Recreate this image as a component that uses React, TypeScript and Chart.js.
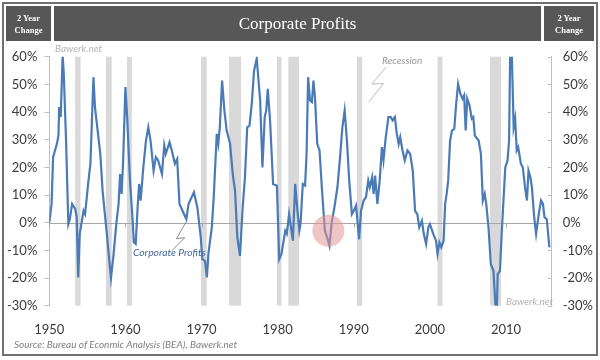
import React, { useEffect, useRef } from "react";
import { Chart, registerables } from "chart.js";
Chart.register(...registerables);

// ---- data (2 year change of US corporate profits, %) ----
const years = [
  1950.0, 1950.3, 1950.5, 1951.0, 1951.2, 1951.3, 1951.5, 1951.75, 1951.9, 1952.2,
  1952.5, 1952.7, 1953.0, 1953.4, 1953.6, 1953.8, 1954.0, 1954.5, 1954.7, 1955.1,
  1955.4, 1955.8, 1956.0, 1956.3, 1956.7, 1957.0, 1957.3, 1957.5, 1958.1, 1958.4,
  1958.8, 1959.1, 1959.3, 1959.5, 1959.7, 1960.0, 1960.25, 1960.6, 1960.95, 1961.1,
  1961.35, 1961.6, 1961.8, 1962.0, 1962.35, 1962.7, 1963.0, 1963.3, 1963.7, 1964.0,
  1964.3, 1964.8, 1965.1, 1965.3, 1965.8, 1966.1, 1966.5, 1966.8, 1967.1, 1967.5,
  1968.0, 1968.3, 1968.6, 1969.0, 1969.45, 1969.9, 1970.1, 1970.45, 1970.7, 1970.9,
  1971.35, 1971.6, 1972.0, 1972.2, 1972.4, 1972.7, 1973.0, 1973.3, 1973.75, 1974.1,
  1974.4, 1974.7, 1975.05, 1975.4, 1975.7, 1976.0, 1976.3, 1976.6, 1976.9, 1977.25,
  1977.7, 1978.0, 1978.3, 1978.5, 1978.7, 1979.0, 1979.4, 1979.9, 1980.2, 1980.5,
  1981.0, 1981.2, 1981.5, 1982.0, 1982.3, 1982.6, 1982.85, 1983.0, 1983.3, 1983.6,
  1983.8, 1984.0, 1984.25, 1984.5, 1984.7, 1984.9, 1985.2, 1985.5, 1985.8, 1986.2,
  1986.5, 1986.8, 1987.1, 1987.45, 1987.85, 1988.2, 1988.5, 1988.8, 1989.1, 1989.4,
  1989.75, 1990.0, 1990.3, 1990.5, 1990.7, 1990.95, 1991.3, 1991.6, 1991.9, 1992.1,
  1992.4, 1992.6, 1992.8, 1993.1, 1993.4, 1993.7, 1993.9, 1994.2, 1994.55, 1994.85,
  1995.1, 1995.4, 1995.65, 1995.9, 1996.1, 1996.4, 1996.7, 1997.05, 1997.4, 1997.75,
  1998.05, 1998.35, 1998.6, 1998.95, 1999.2, 1999.5, 1999.8, 2000.0, 2000.45, 2000.8,
  2001.0, 2001.25, 2001.5, 2001.8, 2002.0, 2002.2, 2002.4, 2002.65, 2002.9, 2003.2,
  2003.45, 2003.7, 2004.0, 2004.3, 2004.5, 2004.7, 2004.9, 2005.2, 2005.5, 2005.7,
  2005.9, 2006.4, 2006.7, 2006.95, 2007.2, 2007.4, 2007.7, 2008.0, 2008.35, 2008.6,
  2008.8, 2008.9, 2009.2, 2009.45, 2009.9, 2010.2, 2010.4, 2010.55, 2010.75, 2011.0,
  2011.2, 2011.4, 2011.6, 2011.95, 2012.2, 2012.5, 2012.75, 2012.95, 2013.2, 2013.4,
  2013.7, 2013.95, 2014.3, 2014.6, 2014.85, 2015.05, 2015.35, 2015.7,
];
const profitChange = [
  0, 6.8, 23.7, 28.5, 31.5, 41.8, 38.2, 60.5, 54, 29.7,
  -0.5, 1.3, 6.8, 5, 2, -19.8, -4, 4.3, 3.1, 14,
  21.3, 52.6, 41.8, 34.5, 24.9, 11.6, 3.1, -2.3, -20, -12.6,
  -0.5, 6.8, 17.6, 10.4, 22.5, 49, 37, 15.2, 0.7, -7.1,
  -7.7, 5.5, 14, 8, 20, 29.7, 34.5, 29.7, 18.8, 23.7,
  22.5, 17.6, 27.9, 24.9, 29.1, 26, 21.3, 23, 6.8, 4.3,
  1.3, 6.8, 8.6, 11, 5.5, -5.3, -13.2, -13.8, -19.8, -11.3,
  -1.7, 9.2, 32.1, 28.5, 34.5, 51.4, 40.6, 33.3, 28.5, 17.6,
  11.6, -5.3, -12, 5.5, 16.4, 34.5, 35.1, 43, 55, 59.3,
  44.2, 20, 38.2, 40.6, 48.4, 37, 14, 13.4, -13.2, -11.3,
  -2.9, -4, 3.1, -6.5, 14, 4.3, -2.9, -0.5, 14, 13.4,
  25, 52.6, 44.2, 43.6, 51.4, 45.4, 28.5, 26.1, 12.8, -2.9,
  -5.3, -8.3, 0.1, 5.5, 12.8, 23.7, 34.5, 40.6, 29.7, 15.2,
  3.1, 4.3, 6.2, 0, -6, 4.3, 8, 9.2, 15.2, 12.8,
  16.4, 10.4, 17, 6.8, 15.2, 27.3, 22.5, 30.9, 38.2, 38.2,
  37, 38.2, 32.1, 28.5, 30.9, 26.1, 22.5, 26.1, 24.9, 18.8,
  4.3, 3.1, -1.7, 0.7, -4.1, -7.7, -1.7, -0.5, -4.1, -6.5,
  -11.3, -7.1, -8.9, -6.5, 6.8, 10.4, 15.2, 29.7, 33.3, 33.9,
  42.9, 50.2, 46.6, 44.8, 46, 33.3, 44.8, 42.4, 37.6, 38.2,
  31.5, 29.7, 24.9, 8, 10.4, 6.8, -1.7, -15, -17.4, -29.5,
  -31, -18.6, -17.4, -2.9, 20, 22.5, 29.7, 63, 62, 34.5,
  37.6, 26.1, 27.3, 21.3, 20, 12.8, 8, 18.8, 16.4, 12.8,
  2, -4.1, 3.1, 8, 6.8, 2, 1.3, -8.9,
];

const recessionStarts = [1953.4, 1957.45, 1960.2, 1969.93, 1973.6, 1979.9, 1981.4, 1990.4, 2001.0, 2007.9];
const recessionEnds = [1954.1, 1958.2, 1960.85, 1970.68, 1975.2, 1980.5, 1982.8, 1991.1, 2001.65, 2009.35];

const xTickYears = [1950, 1960, 1970, 1980, 1990, 2000, 2010];
const xMin = 1950;
const xMax = 2016;
const yMin = -30;
const yMax = 60;
const yStep = 10;

const titleText = "Corporate Profits";
const sideLabel = ["2 Year", "Change"];
const sourceText = "Source: Bureau of Econmic Analysis (BEA), Bawerk.net";

// decoration anchors in data space
const highlight = { x: 1986.66, y: -2.9 };
const recessionBolt = [
  [1994.25, 56.3],
  [1992.37, 50.1],
  [1993.9, 50.3],
  [1991.93, 43.5],
];
const profitsBolt = [
  [1968.0, 0.4],
  [1966.7, -5.8],
  [1967.8, -5.4],
  [1966.1, -10.1],
];

const decorPlugin = {
  id: "decor",
  beforeDatasetsDraw(chart: any) {
    const { ctx, chartArea: ca, scales } = chart;
    const x = scales.x;
    const y = scales.y;
    ctx.save();
    ctx.fillStyle = "#d9d9d9";
    recessionStarts.forEach((s, i) => {
      const x1 = x.getPixelForValue(s);
      const x2 = x.getPixelForValue(recessionEnds[i]);
      ctx.fillRect(x1, ca.top, x2 - x1, ca.bottom - ca.top);
    });
    const y0 = Math.round(y.getPixelForValue(0)) + 0.5;
    ctx.strokeStyle = "#a6a6a6";
    ctx.lineWidth = 1;
    ctx.beginPath();
    ctx.moveTo(ca.left, y0);
    ctx.lineTo(ca.right, y0);
    ctx.stroke();
    xTickYears.forEach((v) => {
      const px = Math.round(x.getPixelForValue(v)) + 0.5;
      ctx.beginPath();
      ctx.moveTo(px, y0);
      ctx.lineTo(px, y0 + 4);
      ctx.stroke();
    });
    // inner ticks of right axis
    ctx.strokeStyle = "#bfbfbf";
    for (let v = yMin; v <= yMax; v += yStep) {
      const py = Math.round(y.getPixelForValue(v)) + 0.5;
      ctx.beginPath();
      ctx.moveTo(ca.right - 4, py);
      ctx.lineTo(ca.right, py);
      ctx.stroke();
    }
    ctx.restore();
  },
  afterDatasetsDraw(chart: any) {
    const { ctx, scales } = chart;
    const x = scales.x;
    const y = scales.y;
    ctx.save();
    ctx.fillStyle = "rgba(226,150,150,0.55)";
    ctx.beginPath();
    ctx.arc(x.getPixelForValue(highlight.x), y.getPixelForValue(highlight.y), 16, 0, Math.PI * 2);
    ctx.fill();
    const drawBolt = (pts: number[][], color: string) => {
      ctx.strokeStyle = color;
      ctx.lineWidth = 1;
      ctx.beginPath();
      pts.forEach((p, i) => {
        const px = x.getPixelForValue(p[0]);
        const py = y.getPixelForValue(p[1]);
        if (i === 0) ctx.moveTo(px, py);
        else ctx.lineTo(px, py);
      });
      ctx.stroke();
    };
    drawBolt(recessionBolt, "#bdbdbd");
    drawBolt(profitsBolt, "#8c8c8c");
    ctx.restore();
  },
};

export default function App() {
  const canvasRef = useRef<HTMLCanvasElement | null>(null);

  useEffect(() => {
    const canvas = canvasRef.current;
    if (!canvas) return;
    const tickFont = { family: "Lato", size: 13 };
    const chart = new Chart(canvas, {
      type: "line",
      data: {
        datasets: [
          {
            label: "Corporate Profits",
            data: years.map((yr, i) => ({ x: yr, y: profitChange[i] })),
            borderColor: "#4a7bb7",
            borderWidth: 2.2,
            pointRadius: 0,
            tension: 0,
            yAxisID: "y",
          },
        ],
      },
      options: {
        animation: false,
        responsive: false,
        devicePixelRatio: 1,
        layout: { padding: { top: 56.7, bottom: 0, left: 0, right: 0 } },
        plugins: { legend: { display: false }, tooltip: { enabled: false }, title: { display: false } },
        scales: {
          x: {
            type: "linear",
            min: xMin,
            max: xMax,
            afterBuildTicks: (scale: any) => {
              scale.ticks = xTickYears.map((v) => ({ value: v }));
            },
            afterFit: (scale: any) => {
              scale.height = 54.3;
            },
            grid: { display: false },
            border: { display: false },
            ticks: {
              font: tickFont,
              color: "#3a3a3a",
              padding: 8,
              maxRotation: 0,
              autoSkip: false,
              callback: (v: any) => String(v),
            },
          },
          y: {
            position: "left",
            min: yMin,
            max: yMax,
            afterFit: (scale: any) => {
              scale.width = 49.3;
            },
            grid: { drawOnChartArea: false, drawTicks: true, tickLength: 5, tickColor: "#bfbfbf" },
            border: { display: true, color: "#bfbfbf" },
            ticks: {
              stepSize: yStep,
              font: tickFont,
              color: "#3a3a3a",
              padding: 7,
              callback: (v: any) => v + "%",
            },
          },
          y2: {
            position: "right",
            min: yMin,
            max: yMax,
            afterFit: (scale: any) => {
              scale.width = 48.3;
            },
            grid: { drawOnChartArea: false, drawTicks: false },
            border: { display: true, color: "#bfbfbf" },
            ticks: {
              stepSize: yStep,
              font: tickFont,
              color: "#3a3a3a",
              padding: 11,
              callback: (v: any) => v + "%",
            },
          },
        },
      },
      plugins: [decorPlugin],
    } as any);
    return () => chart.destroy();
  }, []);

  const abs = (s: React.CSSProperties): React.CSSProperties => ({ position: "absolute", whiteSpace: "nowrap", ...s });
  const sideBox = (left: number, width: number) => (
    <div
      style={abs({
        left,
        top: 6,
        width,
        height: 35,
        background: "#575757",
        color: "#fff",
        fontFamily: "'Liberation Serif', serif",
        fontWeight: "bold",
        fontSize: 8.5,
        lineHeight: "12px",
        display: "flex",
        flexDirection: "column",
        alignItems: "center",
        justifyContent: "center",
      })}
    >
      <div>{sideLabel[0]}</div>
      <div>{sideLabel[1]}</div>
    </div>
  );

  return (
    <div style={{ position: "absolute", left: 0, top: 0, width: 600, height: 360, background: "#fff", overflow: "hidden" }}>
      <canvas ref={canvasRef} width={600} height={360} style={{ position: "absolute", left: 0, top: 0, width: 600, height: 360 }} />
      <div
        style={abs({
          left: 2,
          top: 2,
          width: 596,
          height: 354,
          border: "2px solid #707070",
          boxSizing: "border-box",
          pointerEvents: "none",
        })}
      />
      {sideBox(6, 45)}
      <div
        style={abs({
          left: 54,
          top: 6,
          width: 487,
          height: 35,
          background: "#575757",
          color: "#fff",
          fontFamily: "'Liberation Serif', serif",
          fontSize: 17,
          display: "flex",
          alignItems: "center",
          justifyContent: "center",
        })}
      >
        {titleText}
      </div>
      {sideBox(544, 50)}
      <div style={abs({ left: 55, top: 41.5, fontFamily: "Lato", fontStyle: "italic", fontSize: 10, lineHeight: "12px", color: "#b3b3b3" })}>
        Bawerk.net
      </div>
      <div style={abs({ left: 506, top: 295, fontFamily: "Lato", fontStyle: "italic", fontSize: 10, lineHeight: "12px", color: "#b3b3b3" })}>
        Bawerk.net
      </div>
      <div style={abs({ left: 382, top: 54, fontFamily: "Lato", fontStyle: "italic", fontSize: 10, lineHeight: "12px", color: "#9a9a9a" })}>
        Recession
      </div>
      <div style={abs({ left: 133, top: 246, fontFamily: "Lato", fontStyle: "italic", fontSize: 10.3, lineHeight: "12px", color: "#44679b" })}>
        Corporate Profits
      </div>
      <div style={abs({ left: 14, top: 338, fontFamily: "Lato", fontStyle: "italic", fontSize: 10, lineHeight: "12px", color: "#808080" })}>
        {sourceText}
      </div>
    </div>
  );
}
